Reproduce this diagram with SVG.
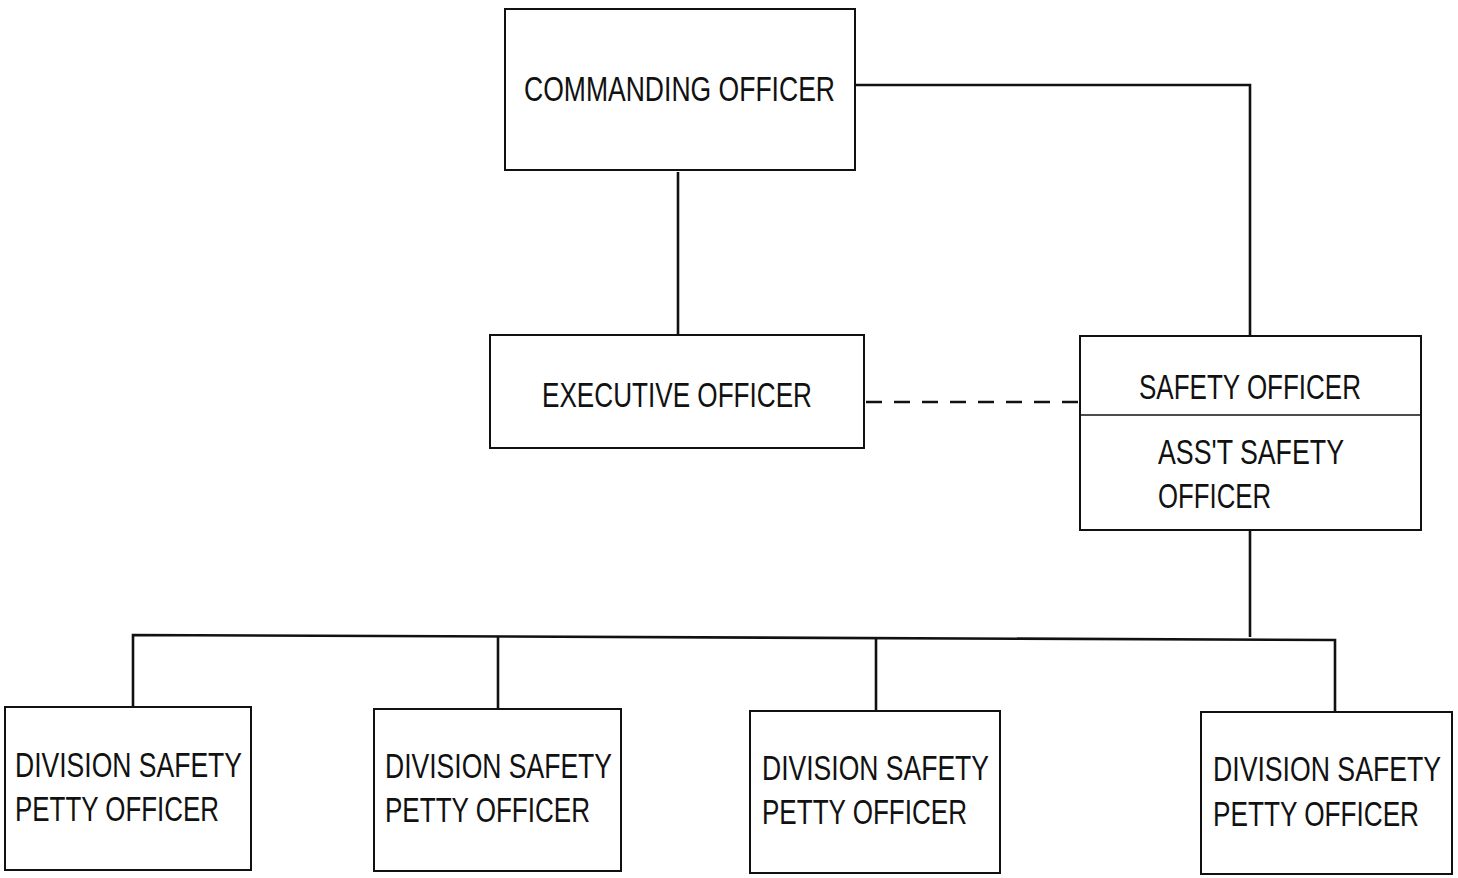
<svg xmlns="http://www.w3.org/2000/svg" width="1458" height="878" viewBox="0 0 1458 878">
<style>
.box{fill:#fff;stroke:#111;stroke-width:2}
.t{font-family:"Liberation Sans",Arial,sans-serif;font-size:35px;fill:#111}
.c{fill:none;stroke:#111;stroke-width:2.6}
.d{fill:none;stroke:#111;stroke-width:2.6;stroke-dasharray:16 12}
</style>
<rect width="1458" height="878" fill="#fff"/>
<g id="connectors">
<path class="c" d="M678,172 V335"/>
<path class="c" d="M855,85 H1250 V336"/>
<path class="d" d="M866,402 H1080"/>
<path class="c" d="M1250,530 V637"/>
<path class="c" d="M133,707 V635 L1335,640 V712"/>
<path class="c" d="M498,636 V709"/>
<path class="c" d="M876,638 V711"/>
</g>
<g id="commanding-officer">
<rect class="box" x="505" y="9" width="350" height="161"/>
<text class="t" x="524" y="101" textLength="311" lengthAdjust="spacingAndGlyphs">COMMANDING OFFICER</text>
</g>
<g id="executive-officer">
<rect class="box" x="490" y="335" width="374" height="113"/>
<text class="t" x="542" y="407" textLength="270" lengthAdjust="spacingAndGlyphs">EXECUTIVE OFFICER</text>
</g>
<g id="safety-officer">
<rect class="box" x="1080" y="336" width="341" height="194"/>
<line x1="1080" y1="415" x2="1421" y2="415" stroke="#111" stroke-width="1.5"/>
<text class="t" x="1139" y="399" textLength="222" lengthAdjust="spacingAndGlyphs">SAFETY OFFICER</text>
<text class="t" x="1158" y="464" textLength="186" lengthAdjust="spacingAndGlyphs">ASS'T SAFETY</text>
<text class="t" x="1158" y="508" textLength="113" lengthAdjust="spacingAndGlyphs">OFFICER</text>
</g>
<g id="division-1">
<rect class="box" x="5" y="707" width="246" height="163"/>
<text class="t" x="15" y="777" textLength="227" lengthAdjust="spacingAndGlyphs">DIVISION SAFETY</text>
<text class="t" x="15" y="821" textLength="204" lengthAdjust="spacingAndGlyphs">PETTY OFFICER</text>
</g>
<g id="division-2">
<rect class="box" x="374" y="709" width="247" height="162"/>
<text class="t" x="385" y="778" textLength="227" lengthAdjust="spacingAndGlyphs">DIVISION SAFETY</text>
<text class="t" x="385" y="822" textLength="205" lengthAdjust="spacingAndGlyphs">PETTY OFFICER</text>
</g>
<g id="division-3">
<rect class="box" x="750" y="711" width="250" height="162"/>
<text class="t" x="762" y="780" textLength="227" lengthAdjust="spacingAndGlyphs">DIVISION SAFETY</text>
<text class="t" x="762" y="824" textLength="205" lengthAdjust="spacingAndGlyphs">PETTY OFFICER</text>
</g>
<g id="division-4">
<rect class="box" x="1201" y="712" width="251" height="162"/>
<text class="t" x="1213" y="781" textLength="228" lengthAdjust="spacingAndGlyphs">DIVISION SAFETY</text>
<text class="t" x="1213" y="826" textLength="206" lengthAdjust="spacingAndGlyphs">PETTY OFFICER</text>
</g>
</svg>
